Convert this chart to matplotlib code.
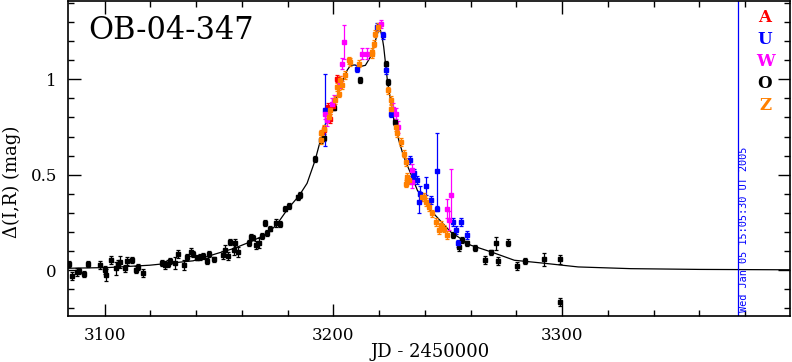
import matplotlib
matplotlib.use("Agg")
import matplotlib.pyplot as plt
from matplotlib.ticker import MultipleLocator, FuncFormatter

# model light curve (JD-2450000, delta mag)
model_jd = [3084, 3102, 3119.7, 3138.7, 3149, 3156.3, 3163.6, 3171, 3175.3, 3180,
            3185, 3188.5, 3192, 3194, 3196, 3200, 3203, 3206, 3207.5, 3209.5,
            3211, 3214, 3216.2, 3218.4, 3220.2, 3221.3, 3222, 3222.8, 3223.6, 3225,
            3226.5, 3228.6, 3230.8, 3233.8, 3236.7, 3240.4, 3242.5, 3251.3, 3260, 3268.9,
            3279.1, 3290.8, 3307, 3330, 3360, 3400]
model_dm = [0.010, 0.014, 0.026, 0.049, 0.087, 0.113, 0.148, 0.19, 0.24, 0.32,
            0.39, 0.455, 0.575, 0.665, 0.75, 0.855, 0.96, 1.047, 1.073, 1.075,
            1.065, 1.073, 1.117, 1.204, 1.275, 1.222, 1.17, 1.082, 0.995, 0.89,
            0.785, 0.68, 0.593, 0.506, 0.419, 0.358, 0.314, 0.2, 0.131, 0.096,
            0.052, 0.038, 0.017, 0.008, 0.004, 0.002]

# (jd, dmag, err) per observatory
obs_O = [(3084.6, 0.031, 0.015), (3085.8, -0.031, 0.02), (3087.9, -0.009, 0.02),
         (3088.7, -0.004, 0.015), (3090.9, -0.021, 0.015), (3092.7, 0.031, 0.015),
         (3097.8, 0.026, 0.02), (3100.0, 0.0, 0.02), (3100.7, -0.026, 0.03),
         (3102.9, 0.052, 0.02), (3104.8, 0.009, 0.035), (3105.8, 0.035, 0.02),
         (3106.6, 0.043, 0.03), (3108.8, 0.009, 0.02), (3109.9, 0.047, 0.02),
         (3112.0, 0.052, 0.015), (3113.9, 0.003, 0.02), (3114.8, 0.017, 0.015),
         (3116.8, -0.014, 0.02), (3125.1, 0.038, 0.015), (3126.6, 0.026, 0.02),
         (3127.5, 0.035, 0.02), (3128.5, 0.049, 0.015), (3130.7, 0.038, 0.03),
         (3131.9, 0.084, 0.02), (3134.8, 0.026, 0.025), (3135.8, 0.07, 0.015),
         (3137.7, 0.096, 0.02), (3138.7, 0.084, 0.015), (3140.5, 0.066, 0.015),
         (3141.7, 0.07, 0.015), (3142.8, 0.073, 0.015), (3144.9, 0.047, 0.015),
         (3145.8, 0.084, 0.015), (3147.9, 0.056, 0.015), (3151.9, 0.078, 0.02),
         (3152.6, 0.108, 0.025), (3153.8, 0.073, 0.02), (3154.8, 0.148, 0.015),
         (3156.7, 0.105, 0.025), (3157.0, 0.143, 0.02), (3158.5, 0.096, 0.025),
         (3162.9, 0.143, 0.015), (3164.0, 0.174, 0.015), (3165.0, 0.171, 0.015),
         (3166.1, 0.131, 0.02), (3167.7, 0.143, 0.025), (3168.7, 0.178, 0.015),
         (3169.9, 0.248, 0.015), (3170.9, 0.195, 0.015), (3172.1, 0.218, 0.015),
         (3175.0, 0.248, 0.02), (3176.5, 0.241, 0.015), (3178.9, 0.323, 0.015),
         (3180.4, 0.335, 0.015), (3184.4, 0.381, 0.015), (3185.5, 0.393, 0.015),
         (3192.1, 0.581, 0.015), (3194.6, 0.68, 0.015), (3195.7, 0.69, 0.015),
         (3200.1, 0.852, 0.015), (3211.5, 0.995, 0.015), (3222.8, 1.082, 0.015),
         (3223.8, 0.986, 0.015), (3226.9, 0.777, 0.015), (3252.1, 0.183, 0.015),
         (3255.0, 0.122, 0.02), (3256.4, 0.157, 0.015), (3258.3, 0.14, 0.015),
         (3262.0, 0.117, 0.015), (3266.4, 0.052, 0.02), (3268.9, 0.093, 0.015),
         (3271.0, 0.14, 0.035), (3272.1, 0.049, 0.02), (3276.2, 0.145, 0.02),
         (3280.1, 0.023, 0.02), (3283.9, 0.047, 0.015), (3292.0, 0.056, 0.035),
         (3299.1, 0.056, 0.025), (3299.1, -0.166, 0.02)]

obs_A = [(3195.8, 0.733, 0.02), (3197.5, 0.855, 0.02), (3198.7, 0.794, 0.025),
         (3201.6, 1.004, 0.02), (3199.8, 0.86, 0.02)]

obs_U = [(3196.5, 0.838, 0.19), (3210.4, 1.056, 0.02), (3219.2, 1.274, 0.02),
         (3221.8, 1.23, 0.02), (3223.2, 1.047, 0.02), (3225.0, 0.82, 0.02),
         (3233.5, 0.576, 0.02), (3234.9, 0.488, 0.02), (3235.2, 0.51, 0.02),
         (3236.7, 0.471, 0.02), (3237.4, 0.358, 0.057), (3237.9, 0.401, 0.04),
         (3240.4, 0.44, 0.048), (3242.5, 0.366, 0.02), (3245.5, 0.518, 0.2),
         (3245.5, 0.323, 0.015), (3252.1, 0.253, 0.02), (3253.5, 0.209, 0.02),
         (3254.5, 0.14, 0.02), (3255.7, 0.253, 0.02), (3258.6, 0.183, 0.02)]

obs_W = [(3196.5, 0.82, 0.03), (3197.2, 0.785, 0.03), (3199.4, 0.872, 0.03),
         (3200.1, 0.89, 0.03), (3203.0, 0.986, 0.03), (3203.8, 1.082, 0.03),
         (3204.5, 1.195, 0.087), (3212.6, 1.134, 0.03), (3214.8, 1.134, 0.03),
         (3220.6, 1.288, 0.02), (3226.2, 0.846, 0.03), (3227.2, 0.82, 0.03),
         (3228.2, 0.75, 0.03), (3234.5, 0.524, 0.03), (3234.5, 0.462, 0.03),
         (3249.8, 0.323, 0.05), (3250.6, 0.262, 0.05), (3251.3, 0.393, 0.135)]

obs_Z = [(3194.6, 0.68, 0.02), (3194.6, 0.716, 0.02), (3195.7, 0.742, 0.02),
         (3197.9, 0.803, 0.02), (3198.7, 0.838, 0.02), (3200.9, 0.89, 0.02),
         (3201.6, 0.96, 0.02), (3202.3, 0.925, 0.02), (3203.1, 0.995, 0.02),
         (3203.8, 0.969, 0.02), (3205.3, 1.021, 0.02), (3206.7, 1.099, 0.02),
         (3207.2, 1.09, 0.02), (3211.1, 1.082, 0.02), (3217.0, 1.134, 0.02),
         (3217.0, 1.143, 0.02), (3217.7, 1.187, 0.02), (3218.4, 1.239, 0.02),
         (3219.4, 1.274, 0.02), (3223.8, 0.942, 0.02), (3225.0, 0.89, 0.02),
         (3225.3, 0.846, 0.02), (3227.2, 0.75, 0.02), (3227.6, 0.716, 0.02),
         (3229.4, 0.672, 0.02), (3230.8, 0.611, 0.02), (3231.6, 0.567, 0.02),
         (3231.6, 0.454, 0.02), (3232.3, 0.488, 0.02), (3232.3, 0.471, 0.02),
         (3233.0, 0.471, 0.02), (3238.9, 0.384, 0.02), (3239.6, 0.384, 0.02),
         (3240.4, 0.358, 0.02), (3241.8, 0.332, 0.02), (3243.3, 0.297, 0.02),
         (3244.7, 0.253, 0.02), (3246.2, 0.209, 0.02), (3246.9, 0.236, 0.02),
         (3248.4, 0.218, 0.02), (3249.8, 0.183, 0.02)]

sites = [("A", obs_A, "#ff0000"), ("U", obs_U, "#0000ff"), ("W", obs_W, "#ff00ff"),
         ("O", obs_O, "#000000"), ("Z", obs_Z, "#ff8000")]

stamp = "Wed Jan 05 15:05:30 UT 2005"
stamp_jd = 3377

plt.rcParams["font.family"] = "DejaVu Serif"

fig = plt.figure(figsize=(7.92, 3.62), dpi=100)
ax = fig.add_axes([68 / 792, 1 - 316 / 362, 722 / 792, 315 / 362])

ax.plot(model_jd, model_dm, color="black", lw=0.9, zorder=1)

# black first, then the others on top
for name, pts, col in [sites[3], sites[0], sites[1], sites[2], sites[4]]:
    x = [p[0] for p in pts]
    y = [p[1] for p in pts]
    e = [p[2] for p in pts]
    ax.errorbar(x, y, yerr=e, fmt="s", ms=2.4, color=col, ecolor=col,
                elinewidth=0.9, capsize=1.3, capthick=0.9, zorder=2)

ax.axvline(stamp_jd, color="#0000ff", lw=0.9)

ax.set_xlim(3084, 3399.6)
ax.set_ylim(-0.24, 1.41)
ax.xaxis.set_major_locator(MultipleLocator(100))
ax.xaxis.set_minor_locator(MultipleLocator(20))
ax.yaxis.set_major_locator(MultipleLocator(0.5))
ax.yaxis.set_minor_locator(MultipleLocator(0.1))
ax.yaxis.set_major_formatter(FuncFormatter(lambda v, p: "%g" % v))
ax.tick_params(which="both", direction="in", top=True, right=True, labelsize=12)
ax.tick_params(which="major", length=9, width=1, pad=8)
ax.tick_params(which="minor", length=4.5, width=1)
for s in ax.spines.values():
    s.set_linewidth(1.2)

ax.text(0.028, 0.955, "OB-04-347", transform=ax.transAxes, fontsize=22,
        ha="left", va="top")

fig.text(430 / 792, 1 - 352 / 362, "JD - 2450000", ha="center", va="center",
         fontsize=13)
fig.text(12 / 792, 1 - 182 / 362, "Δ(I,R) (mag)", ha="center", va="center",
         rotation=90, fontsize=13)

ys = [18, 40, 61, 83, 106]
for (name, pts, col), yp in zip(sites, ys):
    fig.text(765 / 792, 1 - yp / 362, name, color=col, ha="center",
             va="center", fontsize=12, fontweight="bold")

fig.text(744 / 792, 1 - 312 / 362, stamp, color="#0000ff", rotation=90,
         ha="center", va="bottom", fontsize=7.4, family="DejaVu Sans Mono")

fig.savefig("out.png", dpi=100)
